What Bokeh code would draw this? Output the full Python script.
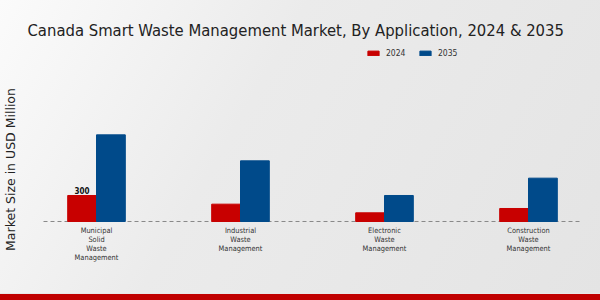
import math
from bokeh.plotting import figure
from bokeh.models import ColumnDataSource, Legend, LegendItem, Label
from bokeh.core.properties import value
from bokeh.embed import file_html
from bokeh.resources import INLINE

categories = ["Municipal\nSolid\nWaste\nManagement", "Industrial\nWaste\nManagement",
              "Electronic\nWaste\nManagement", "Construction\nWaste\nManagement"]
values_2024 = [300, 200, 100, 150]
values_2035 = [1000, 700, 300, 500]
series_names = ["2024", "2035"]
colors = ["#c80000", "#004a8a"]

COND = "DejaVu Sans Condensed"

xs = list(range(len(categories)))
bw = 0.2
axis_start, axis_end = -0.368, 3.361
src = ColumnDataSource(dict(
    x24=[x - bw / 2 for x in xs], x35=[x + bw / 2 for x in xs],
    v24=values_2024, v35=values_2035))
lab_src = ColumnDataSource(dict(x=xs, y=[0] * len(xs), text=categories))

p = figure(width=600, height=300, output_backend="svg", toolbar_location=None,
           x_range=(-0.6667, 3.5), y_range=(-912, 2089),
           min_border_left=0, min_border_right=0, min_border_top=40, min_border_bottom=0)
p.styles = {"background": "linear-gradient(to bottom, rgba(0,0,0,0) 293px, #e8e8e8 293px, #e8e8e8 294px, #c00000 294px), linear-gradient(120deg, #fbfbfb 0%, #ebebeb 40%, #e4e4e4 100%)"}
p.border_fill_alpha = 0
p.background_fill_alpha = 0
p.outline_line_color = None
p.xgrid.visible = False
p.ygrid.visible = False
p.xaxis.visible = False
p.yaxis.visible = False

p.segment(x0=[axis_start], y0=[0], x1=[axis_end], y1=[0], line_color="#888888",
          line_width=1, line_dash="4 3")

r1 = p.vbar(x="x24", top="v24", width=bw, source=src, fill_color=colors[0], line_color=colors[0])
r2 = p.vbar(x="x35", top="v35", width=bw, source=src, fill_color=colors[1], line_color=colors[1])

p.text(x="x", y="y", text="text", source=lab_src, text_align="center", text_baseline="top",
       y_offset=5, text_font=value(COND), text_font_size="7.4px", text_color="#333333",
       text_line_height=1.0)

p.title.text = "Canada Smart Waste Management Market, By Application, 2024 & 2035"
p.title.text_font = COND
p.title.text_font_size = "16.5px"
p.title.text_font_style = "normal"
p.title.text_color = "#222222"
p.title.align = "left"
p.title.offset = 27
p.title.standoff = 2

p.add_layout(Label(x=10, y=131, x_units="screen", y_units="screen",
                   text="Market Size in USD Million", angle=math.pi / 2,
                   text_font="DejaVu Sans", text_font_size="12.5px",
                   text_align="center", text_baseline="middle", text_color="#222222"))

p.add_layout(Label(x=xs[0] - bw / 2, y=values_2024[0], text=str(values_2024[0]),
                   text_font=COND, text_font_style="bold", text_font_size="8px",
                   text_align="center", text_baseline="bottom", y_offset=1,
                   text_color="#111111"))

legend = Legend(items=[LegendItem(label=series_names[0], renderers=[r1]),
                       LegendItem(label=series_names[1], renderers=[r2])],
                orientation="horizontal", location=(366, 242),
                label_text_font=COND, label_text_font_size="8.5px", label_text_color="#333333",
                glyph_width=14, glyph_height=6, label_standoff=6, spacing=12,
                padding=0, margin=0, border_line_color=None, background_fill_alpha=0)
p.add_layout(legend, "center")

open("out.html", "w").write(file_html(p, INLINE))
